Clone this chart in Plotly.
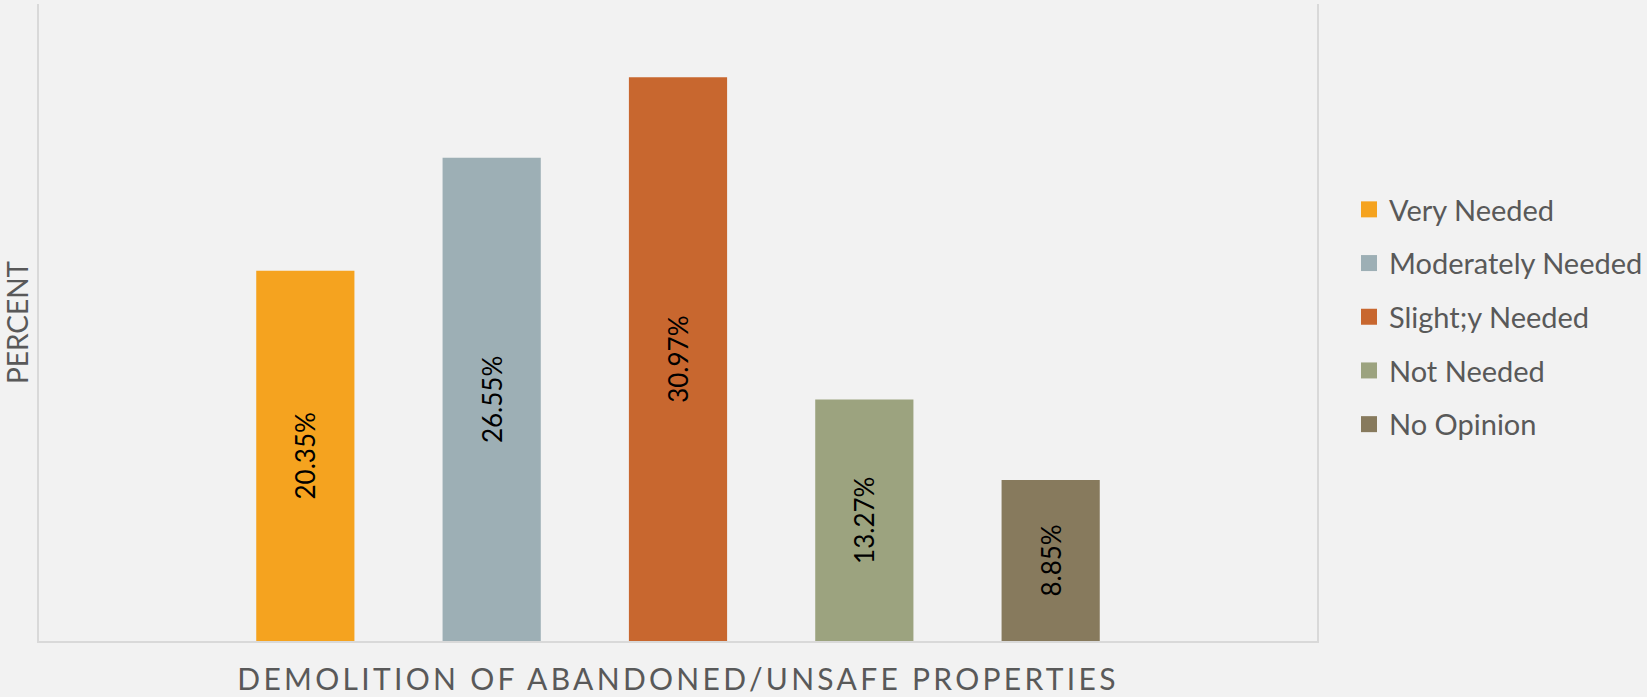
import plotly.graph_objects as go

category = ["DEMOLITION OF ABANDONED/UNSAFE PROPERTIES"]
series_names = ["Very Needed", "Moderately Needed", "Slight;y Needed", "Not Needed", "No Opinion"]
series_values = [20.35, 26.55, 30.97, 13.27, 8.85]
series_colors = ["#F5A31F", "#9DAFB5", "#C8672F", "#9CA37F", "#877A5D"]
y_title = "PERCENT"

FONT = "Lato"
GREY = "#595959"

fig = go.Figure()
for i, (name, val, col) in enumerate(zip(series_names, series_values, series_colors)):
    fig.add_trace(go.Bar(
        x=category, y=[val], name=name,
        marker=dict(color=col, line=dict(width=0)),
        text=[f"{val:.2f}%"], textposition="inside", textangle=-90,
        insidetextanchor="middle", constraintext="none",
        textfont=dict(family=FONT, size=26, color="black"),
        showlegend=False,
    ))
    # legend entry with larger square swatch
    fig.add_trace(go.Scatter(
        x=[None], y=[None], mode="markers", name=name,
        marker=dict(symbol="square", size=17, color=col),
        legendgroup=f"g{i}", showlegend=True,
    ))

fig.update_layout(
    width=1647, height=697,
    margin=dict(l=39, r=330, t=4, b=56, autoexpand=False),
    paper_bgcolor="#F2F2F2", plot_bgcolor="#F2F2F2",
    barmode="group", bargap=0.271, bargroupgap=0.473,
    font=dict(family=FONT, color=GREY),
    legend=dict(
        xref="container", yref="container",
        x=1349 / 1647, xanchor="left",
        y=1 - 184 / 697, yanchor="top",
        font=dict(family=FONT, size=29, color=GREY),
        traceorder="grouped", tracegroupgap=13,
        itemwidth=30, bgcolor="rgba(0,0,0,0)",
    ),
    xaxis=dict(
        type="category", range=[-0.5, 0.5],
        showticklabels=False, ticks="", showgrid=False, zeroline=False,
        showline=True, linecolor="#D9D9D9", linewidth=2,
    ),
    yaxis=dict(
        range=[0, 35], showticklabels=False, ticks="", showgrid=False, zeroline=False,
        showline=True, mirror=True, linecolor="#D9D9D9", linewidth=2,
        title=dict(text=y_title, font=dict(family=FONT, size=28, color=GREY), standoff=0),
    ),
    annotations=[dict(
        text=category[0], xref="paper", yref="paper", x=0.5, y=-0.058,
        xanchor="center", yanchor="middle", showarrow=False,
        font=dict(family=FONT, size=30, color=GREY),
    )],
)

post = """
document.querySelectorAll('.annotation-text').forEach(function(e){ e.style.letterSpacing='3.3px'; });
"""
fig.write_html("out.html", post_script=post)
